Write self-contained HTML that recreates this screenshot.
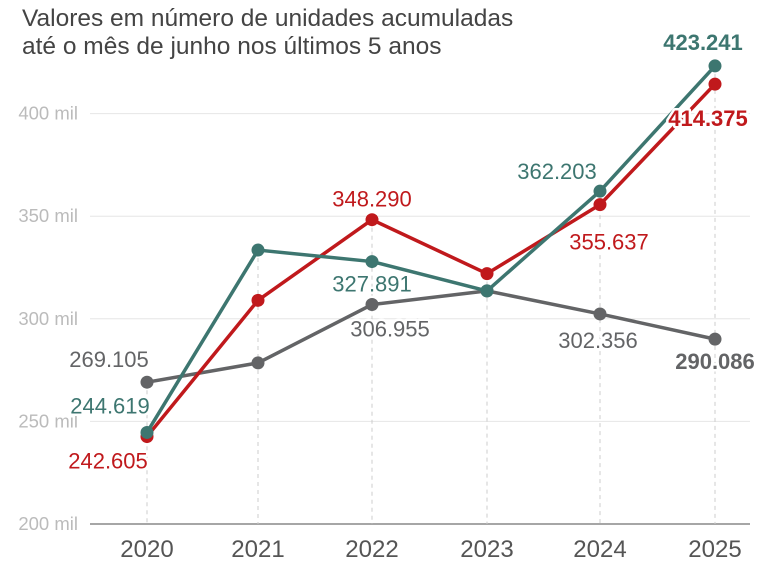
<!DOCTYPE html>
<html><head><meta charset="utf-8"><style>
body{margin:0;background:#fff;width:768px;height:584px;overflow:hidden;font-family:"Liberation Sans",sans-serif}
#title{position:absolute;left:22px;top:5px;font-size:24.5px;line-height:28px;color:#444}
svg{position:absolute;left:0;top:0}
</style></head><body>
<div id="title">Valores em número de unidades acumuladas<br>até o mês de junho nos últimos 5 anos</div>
<svg id="chart" width="768" height="584"></svg>
<script>
const years=["2020","2021","2022","2023","2024","2025"];
const green=[244.619,333.5,327.891,313.6,362.203,423.241];
const red=[242.605,309,348.290,322,355.637,414.375];
const gray=[269.105,278.5,306.955,313.6,302.356,290.086];
const yTicks=[200,250,300,350,400];
const yTickLabels=["200 mil","250 mil","300 mil","350 mil","400 mil"];
const greenLabels=[[0,"244.619",-37,-19,false],[2,"327.891",0,30,false],[4,"362.203",-43,-12,false],[5,"423.241",-12,-16,true]];
const redLabels=[[0,"242.605",-39,32,false],[2,"348.290",0,-13,false],[4,"355.637",9,45,false],[5,"414.375",-7,42,true]];
const grayLabels=[[0,"269.105",-38,-15,false],[2,"306.955",18,32,false],[4,"302.356",-2,34,false],[5,"290.086",0,30,true]];
const xs=[147,258,372,487,600,715];
const x=i=>xs[i];
const y=v=>524-(v-200)*2.052;
const svg=document.getElementById('chart');
const NS="http://www.w3.org/2000/svg";
function mk(t,a){const e=document.createElementNS(NS,t);for(const k in a)e.setAttribute(k,a[k]);svg.appendChild(e);return e;}
yTicks.forEach((t,i)=>{
 const l=mk('line',{x1:90,x2:750,y1:y(t),y2:y(t),stroke:i==0?'#888':'#e6e6e6','stroke-width':i==0?1.5:1});
 
 
 const tx=mk('text',{x:78,y:y(t)+6,'text-anchor':'end','font-size':18.5,fill:'#bbb'});
 tx.textContent=yTickLabels[i];
 
 
});
years.forEach((yr,i)=>{
 const top=Math.min(y(green[i]),y(red[i]),y(gray[i]));
 const d=mk('line',{x1:x(i),x2:x(i),y1:top,y2:524,stroke:'#ccc','stroke-dasharray':'4 4'});
 
 
 const t=mk('text',{x:x(i),y:557,'text-anchor':'middle','font-size':24,fill:'#555'});
 t.textContent=yr;
 
 
});
const labelQueue=[];
function series(vals,col,name,labels){
 const p=mk('polyline',{points:vals.map((v,i)=>x(i)+','+y(v)).join(' '),fill:'none',stroke:col,'stroke-width':3.5,'stroke-linejoin':'round'});
 
 
 vals.forEach((v,i)=>{
  const c=mk('circle',{cx:x(i),cy:y(v),r:6.5,fill:col});
  
  
 });
 labels.forEach(l=>labelQueue.push([vals,col,name,l]));
}
series(gray,'#636466','gray-series',grayLabels);
series(red,'#c0191c','red-series',redLabels);
series(green,'#3d7670','green-series',greenLabels);
labelQueue.forEach(([vals,col,name,[i,txt,dx,dy,b]])=>{
 const t=mk('text',{x:x(i)+dx,y:y(vals[i])+dy,'text-anchor':'middle','font-size':22,fill:col,'font-weight':b?'bold':'normal',stroke:'#fff','stroke-width':5,'paint-order':'stroke','stroke-linejoin':'round'});
 t.textContent=txt;
 
 
});
</script>
</body></html>
